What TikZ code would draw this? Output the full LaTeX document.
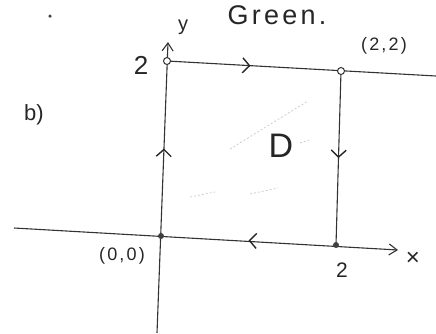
\documentclass[tikz,border=0pt]{standalone}
\usepackage{fontspec}
\setmainfont{Liberation Sans}
\usetikzlibrary{arrows.meta,decorations.markings}
\tikzset{
  pen/.style={draw=black!80, line width=1.1pt},
  axis/.style={pen, -{Straight Barb[length=8pt,width=11pt,line width=1.1pt]}},
  midarrow/.style={decoration={markings, mark=at position #1 with {\arrow[black!85]{Straight Barb[length=7pt,width=15pt,line width=1.4pt]}}}, postaction={decorate}},
  hatch/.style={draw=black!22, line width=0.7pt, dash pattern=on 2pt off 2pt},
  opendot/.style={circle, draw=black!80, line width=1pt, fill=white, minimum size=7pt, inner sep=0pt},
  fulldot/.style={circle, fill=black!75, minimum size=6pt, inner sep=0pt},
  lbl/.style={text=black!85, inner sep=0pt}
}
\begin{document}
\begin{tikzpicture}[x=1pt,y=-1pt]
\useasboundingbox (0,0) rectangle (436,333);
% axis ends
\coordinate (xs) at (14,228);
\coordinate (xe) at (398,250);
\coordinate (ys) at (157,333);
\coordinate (ye) at (168,42);
\coordinate (te) at (436,76);
% faint hatching
\draw[hatch] (230,149) -- (308,101);
\draw[hatch] (300,143) -- (309,140);
\draw[hatch] (190,197) -- (215,192);
\draw[hatch] (250,194) -- (278,188);
% corner points
\coordinate (Oc) at (161,236);
\coordinate (Ac) at (167,61);
\coordinate (Bc) at (341,71);
\coordinate (Cc) at (336,245);
% axes and sides
\draw[axis] (xs) -- (xe);
\draw[axis] (ys) -- (ye);
\draw[pen] (Ac) -- (te);
\draw[pen] (Bc) -- (Cc);
% oriented boundary
\path[midarrow=0.48] (Ac) -- (Bc);
\path[midarrow=0.5] (Bc) -- (Cc);
\path[midarrow=0.5] (Cc) -- (Oc);
\path[midarrow=0.5] (Oc) -- (Ac);
\node[fulldot] (O) at (Oc) {};
\node[opendot] (A) at (Ac) {};
\node[opendot] (B) at (Bc) {};
\node[fulldot] (C) at (Cc) {};
% labels
\node[lbl, font=\fontsize{20}{20}\selectfont] (ylab) at (183,27) {y};
\node[lbl, font=\fontsize{24}{24}\selectfont] (xlab) at (413,259) {×};
\node[lbl, font=\fontsize{26}{26}\selectfont] (y2) at (141,65) {2};
\node[lbl, font=\fontsize{21}{21}\selectfont] (x2) at (342,270) {2};
\node[lbl, font=\fontsize{18}{18}\selectfont\addfontfeature{LetterSpace=12}] (o) at (122,256) {(0,0)};
\node[lbl, font=\fontsize{18}{18}\selectfont\addfontfeature{LetterSpace=12}] (b) at (384,46) {(2,2)};
\node[lbl, font=\fontsize{34}{34}\selectfont] (D) at (281,146) {D};
\node[lbl, font=\fontsize{22}{22}\selectfont] (part) at (34,115) {b)};
\node[lbl, font=\fontsize{27}{27}\selectfont\addfontfeature{LetterSpace=12}] (title) at (277,15) {Green.};
\node[fulldot, minimum size=3.5pt] (dot) at (50,16) {};
\end{tikzpicture}
\end{document}
